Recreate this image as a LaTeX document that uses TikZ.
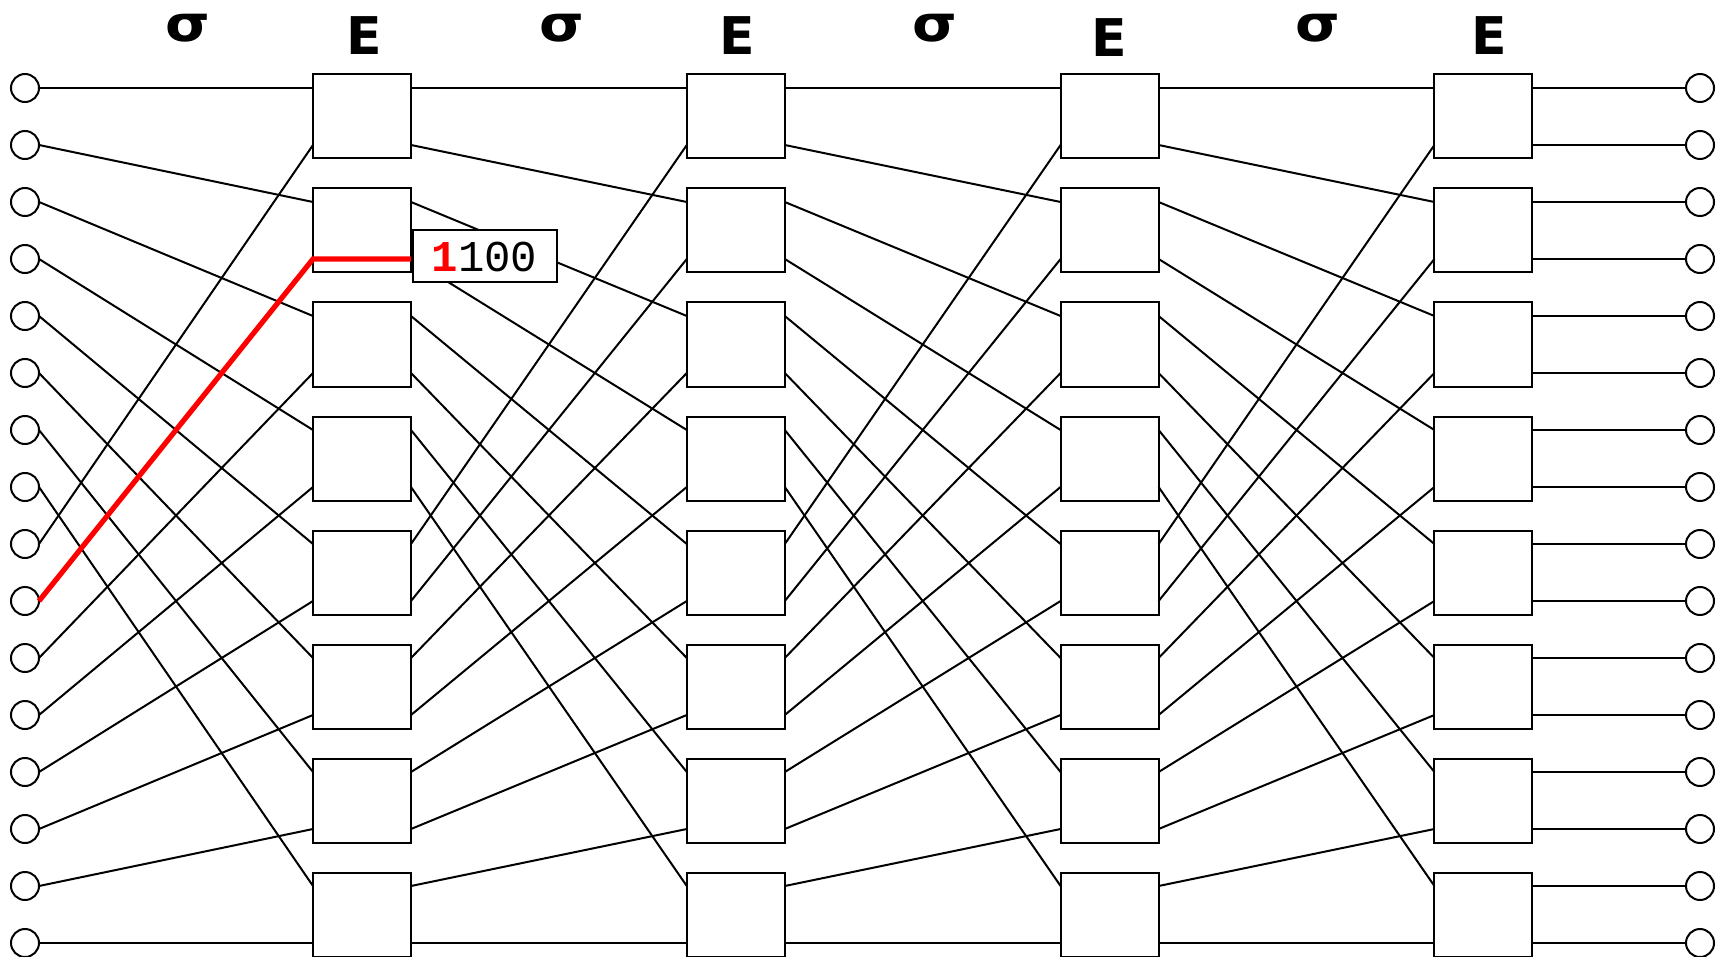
\documentclass[tikz,border=0pt]{standalone}
\usepackage{fontspec}
\usepackage{graphicx}
\newfontfamily\headfont{DejaVu Sans}
\newfontfamily\labmono{Liberation Mono}
\usetikzlibrary{calc}
\begin{document}
\begin{tikzpicture}[x=0.5pt,y=-0.5pt,
  wire/.style={line width=1pt, black},
  redwire/.style={line width=2.6pt, red, line join=miter},
  term/.style={circle, draw, line width=1pt, minimum size=14pt, inner sep=0pt, outer sep=0pt},
  ebox/.style={rectangle, draw, line width=1pt, fill=white, minimum width=49pt, minimum height=42pt, inner sep=0pt, outer sep=0pt},
  ehead/.style={font=\headfont\bfseries\fontsize{26pt}{26pt}\selectfont, inner sep=0pt, anchor=base},
  shead/.style={font=\headfont\bfseries\fontsize{25pt}{25pt}\selectfont, inner sep=0pt, anchor=base},
  tag/.style={rectangle, draw, line width=1pt, fill=white, minimum width=72pt, minimum height=26pt, inner sep=0pt, outer sep=0pt, font=\labmono\fontsize{22pt}{22pt}\selectfont}
]
\useasboundingbox (0,0) rectangle (1729,957);

% terminals
\foreach \i in {0,...,15}{
  \node[term] (L-\i) at (25,{88+57*\i}) {};
  \node[term] (R-\i) at (1700,{88+57*\i}) {};
}

% exchange boxes and their ports
\foreach \s in {0,...,3}{
  \foreach \k in {0,...,7}{
    \pgfmathtruncatemacro\a{2*\k}
    \pgfmathtruncatemacro\b{2*\k+1}
    \node[ebox] (B-\s-\k) at ({362+373.8*\s},{116.5+114*\k}) {};
    \coordinate (I-\s-\a) at ([yshift=14.25pt]B-\s-\k.west);
    \coordinate (I-\s-\b) at ([yshift=-14.25pt]B-\s-\k.west);
    \coordinate (O-\s-\a) at ([yshift=14.25pt]B-\s-\k.east);
    \coordinate (O-\s-\b) at ([yshift=-14.25pt]B-\s-\k.east);
  }
}

% perfect shuffle wiring
\foreach \i in {0,...,15}{
  \pgfmathtruncatemacro\j{ifthenelse(\i<8, 2*\i, 2*(\i-8)+1)}
  \draw[wire] (L-\i.east) -- (I-0-\j);
  \foreach \s in {0,1,2}{
    \pgfmathtruncatemacro\t{\s+1}
    \draw[wire] (O-\s-\i) -- (I-\t-\j);
  }
  \draw[wire] (O-3-\i) -- (R-\i.west);
}

% highlighted path
\draw[redwire] (L-9.east) -- (I-0-3) -- (O-0-3);

% tag
\node[tag] (tag) at (484.5,256.5) {\raisebox{-1.5pt}{\textcolor{red}{\bfseries 1}100}};

% headings
\node[shead] (s0) at (188,42) {\scalebox{1.15}[1]{σ}};
\node[shead] (s1) at (562,42) {\scalebox{1.15}[1]{σ}};
\node[shead] (s2) at (935,42) {\scalebox{1.15}[1]{σ}};
\node[shead] (s3) at (1318,42) {\scalebox{1.15}[1]{σ}};
\node[ehead] (e0) at (364,55) {E};
\node[ehead] (e1) at (737,55) {E};
\node[ehead] (e2) at (1109,57) {E};
\node[ehead] (e3) at (1489,55) {E};
\end{tikzpicture}
\end{document}
